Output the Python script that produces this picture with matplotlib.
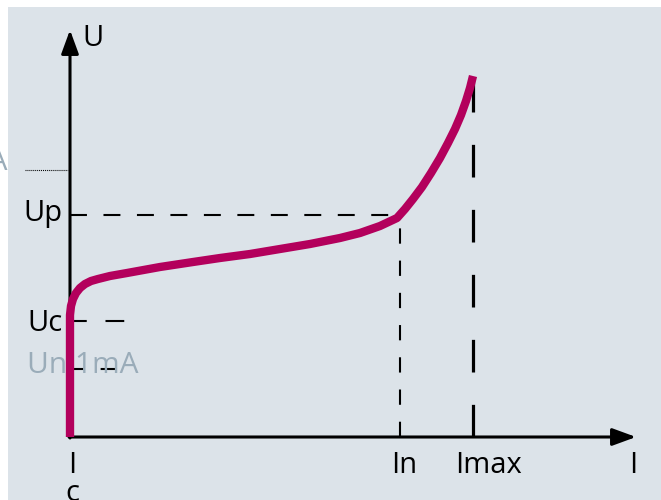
import matplotlib
matplotlib.use('Agg')
import matplotlib.pyplot as plt
from matplotlib.patches import Rectangle

plt.rcParams['font.family'] = ['Open Sans', 'DejaVu Sans']
plt.rcParams['lines.scale_dashes'] = False

# V-I characteristic of a varistor (units: pixels from the origin of the sketch)
current = [0, 0, 1, 3, 6, 10, 15, 21, 28, 40, 57, 90, 123, 150, 180, 210,
           240, 270, 290, 310, 327, 335, 343, 352, 361, 370, 378, 385, 391,
           396, 400, 403]
voltage = [0, 122, 131, 138, 144, 149, 153, 156, 158, 161, 164, 170, 175,
           179, 183, 188, 193, 199, 204, 211, 219, 228, 238, 250, 264, 279,
           294, 308, 322, 336, 349, 361]

u_c = 116
u_p = 222
u_n1ma = 68
u_ref = 267
i_n = 330
i_max = 403

curve_color = '#b3005c'
grey_text = '#9aacb9'

fig = plt.figure(figsize=(6.61, 5.0), dpi=100)
fig.patch.set_facecolor('white')
fig.patches.append(Rectangle((8 / 661, 0), 1, 493 / 500, transform=fig.transFigure,
                             facecolor='#dce3e9', edgecolor='none', zorder=-10))

ax = fig.add_axes([0, 0, 1, 1])
ax.set_xlim(-70, 591)
ax.set_ylim(-63, 437)
ax.axis('off')
ax.patch.set_alpha(0)

# guide lines
ax.plot([0, i_n], [u_p, u_p], color='black', lw=1.5, dashes=(12.2, 11.9), dash_capstyle='butt')
ax.plot([i_n, i_n], [0, u_p], color='black', lw=1.5, dashes=(11, 12.2), dash_capstyle='butt')
ax.plot([i_max, i_max], [0, 361], color='black', lw=2.3, dashes=(23.5, 23.3), dash_capstyle='butt')
ax.plot([-2, 55], [u_c, u_c], color='black', lw=1.5, dashes=(13.5, 13.5), dash_capstyle='butt')
ax.plot([-2, 46], [u_n1ma, u_n1ma], color='black', lw=1.5, dashes=(11, 12.5), dash_capstyle='butt')
ax.plot([-45, -2], [u_ref, u_ref], color='black', lw=0.8, dashes=(0.7, 0.7))

# axes with arrows
arrow = dict(arrowstyle='-|>,head_length=0.6,head_width=0.22', lw=2.2, color='black',
             shrinkA=0, shrinkB=0, mutation_scale=24)
ax.annotate('', xy=(0, 407), xytext=(0, -1), arrowprops=arrow)
ax.annotate('', xy=(566, 0), xytext=(-1, 0), arrowprops=arrow)

# characteristic curve
ax.plot(current, voltage, color=curve_color, lw=6, solid_capstyle='butt',
        solid_joinstyle='round', zorder=5)

fs = 21
ax.text(12, 391, 'U', fontsize=fs, va='baseline', ha='left')
ax.text(-7, 216, 'Up', fontsize=fs, va='baseline', ha='right')
ax.text(-7, 106, 'Uc', fontsize=fs, va='baseline', ha='right')
ax.text(-43, 64, 'Un 1mA', fontsize=21.5, va='baseline', ha='left', color=grey_text)
ax.text(-62, 267, 'Un 1mA', fontsize=21.5, va='baseline', ha='right', color=grey_text)
ax.text(2, -36, 'I', fontsize=fs, va='baseline', ha='center')
ax.text(2, -64, 'c', fontsize=fs, va='baseline', ha='center')
ax.text(i_n + 4, -36, 'In', fontsize=fs, va='baseline', ha='center')
ax.text(i_max + 16, -36, 'Imax', fontsize=fs, va='baseline', ha='center')
ax.text(563, -36, 'I', fontsize=fs, va='baseline', ha='center')

fig.savefig('out.png', dpi=100)
